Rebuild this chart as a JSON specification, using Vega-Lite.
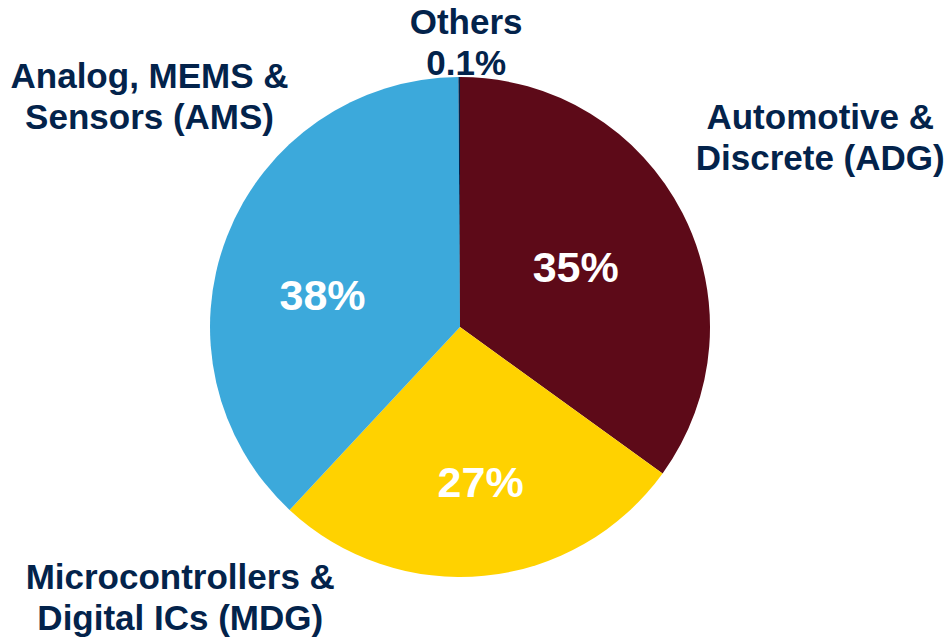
{
  "$schema": "https://vega.github.io/schema/vega-lite/v6.json",
  "width": 920,
  "height": 624,
  "autosize": {"type": "none"},
  "padding": {"left": 0, "top": 15, "right": 26, "bottom": 0},
  "background": "white",
  "config": {"view": {"stroke": null}, "text": {"font": "Liberation Sans", "fontWeight": "bold"}},
  "data": {"values": [
    {"segment": "ADG", "label": "Automotive &\nDiscrete (ADG)", "share": 35, "pct": "35%", "rank": 1},
    {"segment": "MDG", "label": "Microcontrollers &\nDigital ICs (MDG)", "share": 27, "pct": "27%", "rank": 2},
    {"segment": "AMS", "label": "Analog, MEMS &\nSensors (AMS)", "share": 38, "pct": "38%", "rank": 3},
    {"segment": "Others", "label": "Others\n0.1%", "share": 0.1, "pct": "0.1%", "rank": 4}
  ]},
  "encoding": {
    "theta": {"field": "share", "type": "quantitative", "stack": true},
    "order": {"field": "rank", "type": "quantitative"}
  },
  "layer": [
    {
      "mark": {"type": "arc", "outerRadius": 250},
      "encoding": {
        "color": {"field": "segment", "type": "nominal", "legend": null,
          "scale": {"domain": ["ADG", "MDG", "AMS", "Others"], "range": ["#5D0A18", "#FFD200", "#3CA9DB", "#03234B"]}}
      }
    },
    {
      "mark": {"type": "text", "radius": 140, "fontSize": 43, "color": "white", "align": "center", "baseline": "alphabetic", "dx": -9, "dy": 19},
      "encoding": {"text": {"condition": {"test": "datum.segment === 'ADG'", "field": "pct"}, "value": ""}}
    },
    {
      "mark": {"type": "text", "radius": 140, "fontSize": 43, "color": "white", "align": "center", "baseline": "alphabetic", "dx": 7, "dy": 31},
      "encoding": {"text": {"condition": {"test": "datum.segment === 'MDG'", "field": "pct"}, "value": ""}}
    },
    {
      "mark": {"type": "text", "radius": 140, "fontSize": 43, "color": "white", "align": "center", "baseline": "alphabetic", "dx": -7, "dy": 34},
      "encoding": {"text": {"condition": {"test": "datum.segment === 'AMS'", "field": "pct"}, "value": ""}}
    },
    {
      "mark": {"type": "text", "radius": 400, "fontSize": 35, "lineHeight": 41, "lineBreak": "\n", "color": "#03234B", "align": "center", "baseline": "alphabetic", "dx": 4, "dy": -16},
      "encoding": {"text": {"condition": {"test": "datum.segment === 'ADG'", "field": "label"}, "value": ""}}
    },
    {
      "mark": {"type": "text", "radius": 260, "fontSize": 35, "lineHeight": 41, "lineBreak": "\n", "color": "#03234B", "align": "center", "baseline": "alphabetic", "dx": -305, "dy": 3},
      "encoding": {"text": {"condition": {"test": "datum.segment === 'MDG'", "field": "label"}, "value": ""}}
    },
    {
      "mark": {"type": "text", "radius": 330, "fontSize": 35, "lineHeight": 41, "lineBreak": "\n", "color": "#03234B", "align": "center", "baseline": "alphabetic", "dx": -3, "dy": -119},
      "encoding": {"text": {"condition": {"test": "datum.segment === 'AMS'", "field": "label"}, "value": ""}}
    },
    {
      "mark": {"type": "text", "radius": 280, "fontSize": 35, "lineHeight": 41, "lineBreak": "\n", "color": "#03234B", "align": "center", "baseline": "alphabetic", "dx": 7, "dy": -13},
      "encoding": {"text": {"condition": {"test": "datum.segment === 'Others'", "field": "label"}, "value": ""}}
    }
  ]
}
